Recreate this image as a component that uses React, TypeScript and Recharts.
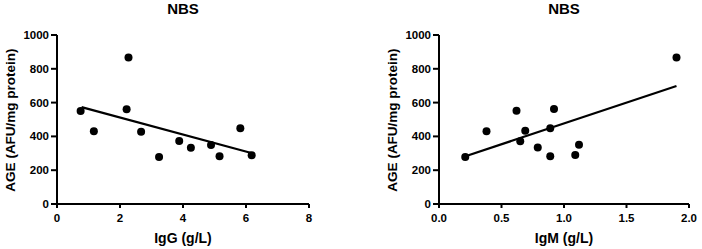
import React from 'react';
import { ScatterChart, Scatter, XAxis, YAxis, ReferenceLine, Customized } from 'recharts';

const chartTitle = 'NBS';
const yAxisLabel = 'AGE (AFU/mg protein)';
const iggAxisLabel = 'IgG (g/L)';
const igmAxisLabel = 'IgM (g/L)';

const ageTicks = [0, 200, 400, 600, 800, 1000];
const iggTicks = [0, 2, 4, 6, 8];
const igmTicks = [0, 0.5, 1.0, 1.5, 2.0];

const iggValues = [0.75, 1.17, 2.21, 2.27, 2.67, 3.24, 3.88, 4.25, 4.89, 5.16, 5.82, 6.18];
const iggAge = [550, 430, 560, 867, 427, 278, 373, 333, 349, 282, 448, 288];
const iggFit = [
  { x: 0.78, y: 573 },
  { x: 6.2, y: 300 },
];

const igmValues = [0.21, 0.38, 0.62, 0.65, 0.69, 0.79, 0.89, 0.89, 0.92, 1.09, 1.12, 1.9];
const igmAge = [278, 431, 552, 371, 433, 335, 448, 282, 562, 290, 351, 867];
const igmFit = [
  { x: 0.2, y: 280 },
  { x: 1.9, y: 698 },
];

const iggData = iggValues.map((x, i) => ({ x, y: iggAge[i] }));
const igmData = igmValues.map((x, i) => ({ x, y: igmAge[i] }));

const FONT = '"Liberation Sans", Arial, Helvetica, sans-serif';

const tickStyle = { fill: '#000', fontSize: 11.5, fontWeight: 700, fontFamily: FONT };
const lineStyle = { stroke: '#000', strokeWidth: 2 };

const Dot = (p: any) => <circle cx={p.cx} cy={p.cy} r={4} fill="#000" />;

type PanelProps = {
  data: { x: number; y: number }[];
  fit: { x: number; y: number }[];
  xTicks: number[];
  xLabel: string;
  yAxisWidth: number;
  rightMargin: number;
  yLabelX: number;
  fmt?: (v: number) => string;
};

const Panel = ({ data, fit, xTicks, xLabel, yAxisWidth, rightMargin, yLabelX, fmt }: PanelProps) => {
  const W = 351;
  const H = 249;
  const plotLeft = yAxisWidth;
  const plotRight = W - rightMargin;
  const cx = (plotLeft + plotRight) / 2;
  const yMid = 120;
  return (
    <ScatterChart width={W} height={H} margin={{ top: 35, right: rightMargin, bottom: 0, left: 0 }}>
      <XAxis
        type="number"
        dataKey="x"
        domain={[xTicks[0], xTicks[xTicks.length - 1]]}
        ticks={xTicks}
        tickFormatter={fmt}
        height={45}
        tick={tickStyle}
        tickLine={lineStyle}
        axisLine={lineStyle}
        tickSize={4}
        tickMargin={6}
        interval={0}
        allowDecimals
      />
      <YAxis
        type="number"
        dataKey="y"
        domain={[0, 1000]}
        ticks={ageTicks}
        width={yAxisWidth}
        tick={tickStyle}
        tickLine={lineStyle}
        axisLine={lineStyle}
        tickSize={6}
        tickMargin={2}
        interval={0}
      />
      <ReferenceLine segment={fit} stroke="#000" strokeWidth={2.2} />
      <Scatter data={data} fill="#000" shape={Dot} isAnimationActive={false} />
      <Customized
        component={() => (
          <g>
            <text x={cx} y={14} textAnchor="middle" fontFamily={FONT} fontWeight={700} fontSize={15} fill="#000">
              {chartTitle}
            </text>
            <text x={cx} y={243} textAnchor="middle" fontFamily={FONT} fontWeight={700} fontSize={14} fill="#000">
              {xLabel}
            </text>
            <text
              x={yLabelX}
              y={yMid}
              transform={`rotate(-90 ${yLabelX} ${yMid})`}
              textAnchor="middle"
              dominantBaseline="central"
              fontFamily={FONT}
              fontWeight={700}
              fontSize={13.5}
              fill="#000"
            >
              {yAxisLabel}
            </text>
          </g>
        )}
      />
    </ScatterChart>
  );
};

export default function App() {
  return (
    <div style={{ position: 'absolute', left: 0, top: 0, width: 702, height: 249, background: '#fff', display: 'flex' }}>
      <Panel
        data={iggData}
        fit={iggFit}
        xTicks={iggTicks}
        xLabel={iggAxisLabel}
        yAxisWidth={57}
        rightMargin={42}
        yLabelX={10.5}
      />
      <Panel
        data={igmData}
        fit={igmFit}
        xTicks={igmTicks}
        xLabel={igmAxisLabel}
        yAxisWidth={88}
        rightMargin={13}
        yLabelX={41.5}
        fmt={(v: number) => v.toFixed(1)}
      />
    </div>
  );
}
